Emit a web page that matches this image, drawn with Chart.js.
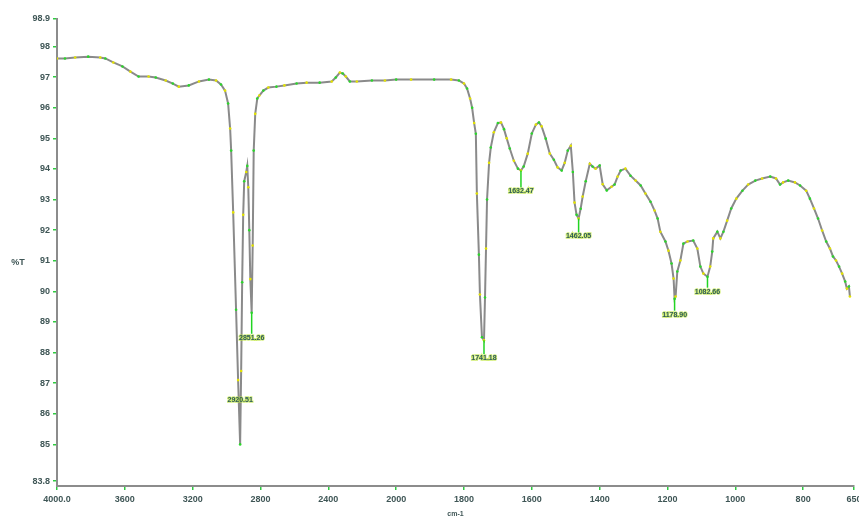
<!DOCTYPE html>
<html>
<head>
<meta charset="utf-8">
<script src="https://cdn.jsdelivr.net/npm/chart.js@4.4.1/dist/chart.umd.min.js"></script>
<style>
html,body{margin:0;padding:0;background:#ffffff;}
#wrap{width:859px;height:518px;}
</style>
</head>
<body>
<div id="wrap"><canvas id="c" width="859" height="518"></canvas></div>
<script>
// ---- data ----
const wavenumbers = [
  4000,3953,3893,3816,3745,3715,3668,3614,3567,3519,3460,3418,3359,3317,3282,3223,3163,3104,3062,3033,
  3009,2991,2979,2973,2961,2944,2932,2920,2914,2908,2902,2896,2884,2878,2872,2866,2860,2852,2846,2840,
  2831,2819,2807,2783,2754,2706,2659,2587,2528,2451,2380,2356,2332,2315,2297,2273,2232,2143,2066,2000,
  1956,1888,1838,1815,1800,1791,1782,1776,1770,1765,1762,1756,1753,1747,1741,1738,1735,1732,1726,1721,
  1712,1700,1691,1682,1674,1665,1653,1641,1632,1624,1612,1600,1588,1579,1571,1559,1547,1535,1524,1512,
  1503,1494,1485,1479,1474,1468,1462,1456,1450,1441,1429,1421,1412,1400,1391,1379,1365,1356,1347,1338,
  1324,1309,1294,1279,1265,1250,1238,1229,1221,1206,1197,1188,1182,1179,1176,1171,1162,1153,1141,1124,
  1112,1103,1094,1082,1074,1068,1065,1053,1044,1035,1024,1012,997,979,962,941,921,897,880,868,
  859,844,824,809,791,780,768,756,744,732,721,712,703,694,685,676,671,665,662
];
const transmittance = [
  97.61,97.61,97.64,97.67,97.64,97.61,97.48,97.35,97.18,97.02,97.02,96.99,96.89,96.79,96.69,96.73,96.86,96.92,96.89,96.76,
  96.56,96.14,95.32,94.60,92.58,89.40,87.10,85.00,87.40,90.30,92.50,93.60,93.90,94.10,93.40,92.00,90.40,89.30,91.50,94.60,
  95.80,96.30,96.40,96.56,96.66,96.69,96.73,96.79,96.82,96.82,96.86,96.99,97.15,97.12,97.02,96.86,96.86,96.89,96.89,96.92,
  96.92,96.92,96.92,96.89,96.79,96.63,96.30,96.00,95.50,95.15,93.20,91.20,89.90,88.50,88.40,89.80,91.40,93.00,94.20,94.70,
  95.20,95.50,95.52,95.30,95.00,94.67,94.27,94.01,93.95,94.08,94.50,95.16,95.45,95.52,95.39,94.99,94.50,94.30,94.05,93.95,
  94.20,94.60,94.76,93.90,92.90,92.50,92.38,92.70,93.10,93.60,94.17,94.08,94.01,94.11,93.50,93.30,93.42,93.49,93.75,93.95,
  94.01,93.78,93.62,93.46,93.20,92.93,92.64,92.38,91.95,91.63,91.33,90.91,90.42,89.76,89.83,90.65,91.01,91.56,91.63,91.66,
  91.40,90.81,90.58,90.48,90.81,91.30,91.73,91.95,91.73,91.95,92.31,92.71,93.03,93.29,93.49,93.62,93.69,93.75,93.69,93.49,
  93.56,93.62,93.56,93.46,93.29,93.03,92.71,92.38,91.99,91.63,91.40,91.14,91.01,90.81,90.58,90.32,90.09,90.16,89.83
];
const yTickValues = [98.9,98,97,96,95,94,93,92,91,90,89,88,87,86,85,83.8];
const xTickValues = [4000,3600,3200,2800,2400,2000,1800,1600,1400,1200,1000,800,650];
const peakWavenumbers = [2920,2852,1741,1632,1462,1179,1082];
const peakLabels = ["2920.51","2851.26","1741.18","1632.47","1462.05","1178.90","1082.66"];

// ---- x axis with the usual IR scale change at 2000 cm-1 (above 2000 compressed x2) ----
function compress(w){ return w <= 2000 ? w : 2000 + (w - 2000) / 2; }
function expand(u){ return u <= 2000 ? u : 2000 + (u - 2000) * 2; }

class SpectrumAxis extends Chart.LinearScale {
  buildTicks(){ return xTickValues.map(v => ({value: v})); }
  getPixelForValue(value){
    const a = compress(this.min), b = compress(this.max);
    return this.getPixelForDecimal((compress(value) - a) / (b - a));
  }
  getValueForPixel(pixel){
    const a = compress(this.min), b = compress(this.max);
    return expand(a + this.getDecimalForPixel(pixel) * (b - a));
  }
}
SpectrumAxis.id = 'spectrum';
SpectrumAxis.defaults = Chart.LinearScale.defaults;
Chart.register(SpectrumAxis);

const textColor = '#3f5656';
const tickFont = {family: 'Liberation Sans', size: 9, weight: 'bold'};

const annotate = {
  id: 'annotate',
  afterDatasetsDraw(chart, args, opts){
    const ctx = chart.ctx, xs = chart.scales.x, ys = chart.scales.y;
    ctx.save();
    ctx.font = 'bold 7px "Liberation Sans"';
    ctx.textAlign = 'center';
    ctx.textBaseline = 'middle';
    peakWavenumbers.forEach((w, i) => {
      let idx = 0, best = Infinity;
      wavenumbers.forEach((v, j) => { const d = Math.abs(v - w); if (d < best){ best = d; idx = j; } });
      const px = xs.getPixelForValue(wavenumbers[idx]);
      const py = ys.getPixelForValue(transmittance[idx]);
      const ly = py + opts.labelDy[i];
      if (opts.labelDy[i] > 0){
        ctx.strokeStyle = '#22d422';
        ctx.lineWidth = 1.5;
        ctx.beginPath(); ctx.moveTo(px, py); ctx.lineTo(px, ly - 4); ctx.stroke();
      }
      ctx.lineWidth = 1.5;
      ctx.strokeStyle = 'rgba(190,230,60,0.7)';
      ctx.strokeText(peakLabels[i], px, ly);
      ctx.fillStyle = '#2e5a5a';
      ctx.fillText(peakLabels[i], px, ly);
    });
    ctx.font = 'bold 9px "Liberation Sans"';
    ctx.fillStyle = textColor;
    ctx.fillText('%T', 18, 263);
    ctx.restore();
  }
};

const pointColors = wavenumbers.map((_, i) => i % 2 ? '#2bd62b' : '#e4e400');

new Chart(document.getElementById('c'), {
  type: 'line',
  data: {
    datasets: [{
      data: wavenumbers.map((w, i) => ({x: w, y: transmittance[i]})),
      borderColor: '#8a8a8a',
      borderWidth: 2,
      tension: 0,
      pointRadius: 1.3,
      pointBorderWidth: 0,
      pointBackgroundColor: pointColors
    }]
  },
  options: {
    responsive: false,
    animation: false,
    layout: {padding: {top: 19, right: 5, left: 0, bottom: 0}},
    plugins: {legend: {display: false}, tooltip: {enabled: false}, annotate: {labelDy: [-44, 25, 18, 21, 18, 16, 15]}},
    scales: {
      x: {
        type: 'spectrum', reverse: true, min: 650, max: 4000,
        border: {color: '#8c8c8c', width: 2},
        grid: {drawOnChartArea: false, color: '#2ecc40', tickLength: 4, lineWidth: 1.5},
        ticks: {autoSkip: false, maxRotation: 0, minRotation: 0, padding: 4, color: textColor, font: tickFont,
          callback: v => v === 4000 ? '4000.0' : String(v)},
        title: {display: true, text: 'cm-1', color: textColor, font: {family: 'Liberation Sans', size: 7, weight: 'bold'}, padding: 0},
        afterFit(s){ s.height = 32; s.paddingLeft = 0; s.paddingRight = 0; }
      },
      y: {
        type: 'linear', min: 83.64, max: 98.9,
        border: {color: '#8c8c8c', width: 2},
        grid: {drawOnChartArea: false, color: '#2ecc40', tickLength: 4, lineWidth: 1.5},
        ticks: {padding: 3, color: textColor, font: tickFont, callback: v => String(v)},
        afterBuildTicks(s){ s.ticks = yTickValues.map(v => ({value: v})); },
        afterFit(s){ s.width = 57; s.paddingTop = 0; s.paddingBottom = 0; }
      }
    }
  },
  plugins: [annotate]
});
</script>
</body>
</html>
